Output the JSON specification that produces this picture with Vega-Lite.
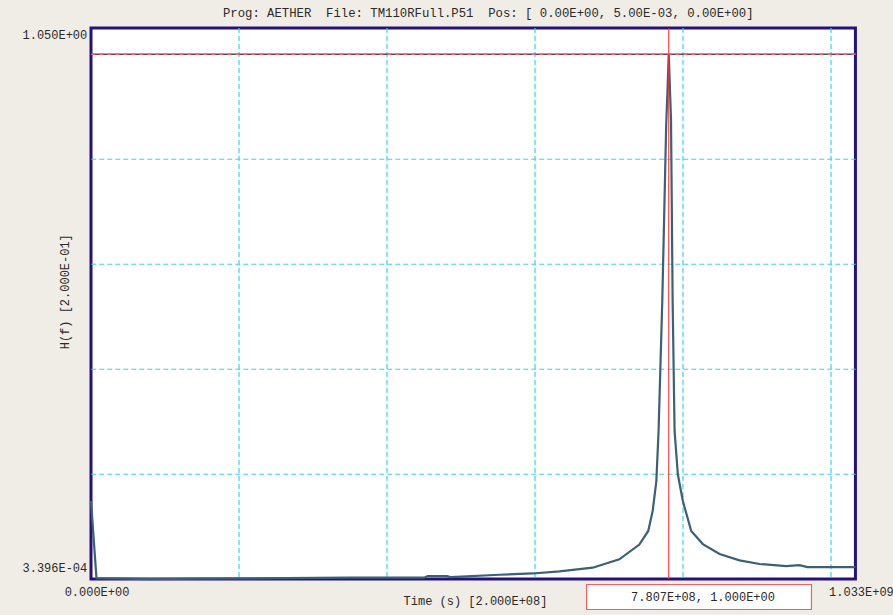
{
  "$schema": "https://vega.github.io/schema/vega-lite/v6.json",
  "width": 764.42,
  "height": 551.0717,
  "autosize": {"type": "none"},
  "padding": {"left": 91, "top": 28, "right": 37.58, "bottom": 35.93},
  "background": "#F0EDE6",
  "view": {"fill": "#FFFFFF", "stroke": "#24127A", "strokeWidth": 3},
  "title": {
    "text": "Prog: AETHER\u00a0\u00a0File: TM110RFull.P51\u00a0\u00a0Pos: [ 0.00E+00, 5.00E-03, 0.00E+00]",
    "frame": "group",
    "anchor": "middle",
    "dx": 15,
    "offset": 8,
    "font": "Liberation Mono",
    "fontSize": 12.3,
    "fontWeight": "normal",
    "color": "#2A2A2A"
  },
  "config": {
    "font": "Liberation Mono",
    "axis": {
      "labelFont": "Liberation Mono",
      "titleFont": "Liberation Mono",
      "labelFontSize": 12,
      "titleFontSize": 12,
      "titleFontWeight": "normal",
      "labelColor": "#2A2A2A",
      "titleColor": "#2A2A2A",
      "ticks": false,
      "domain": false,
      "grid": true,
      "gridColor": "#3FCFE8",
      "gridDash": [5, 3],
      "gridWidth": 1,
      "labelOverlap": false,
      "labelFlush": false,
      "labelBound": false
    }
  },
  "datasets": {
    "spectrum": [
      {"f": 0, "h": 0.149},
      {"f": 7.4e6, "h": 0.002},
      {"f": 8.0e7, "h": 0.0004},
      {"f": 1.47e8, "h": 0.001},
      {"f": 3.50e8, "h": 0.003},
      {"f": 4.50e8, "h": 0.003},
      {"f": 4.55e8, "h": 0.006},
      {"f": 4.81e8, "h": 0.006},
      {"f": 4.86e8, "h": 0.004},
      {"f": 5.52e8, "h": 0.0086},
      {"f": 5.97e8, "h": 0.011},
      {"f": 6.33e8, "h": 0.015},
      {"f": 6.78e8, "h": 0.022},
      {"f": 7.14e8, "h": 0.038},
      {"f": 7.41e8, "h": 0.066},
      {"f": 7.53e8, "h": 0.092},
      {"f": 7.59e8, "h": 0.130},
      {"f": 7.64e8, "h": 0.187},
      {"f": 7.67e8, "h": 0.283},
      {"f": 7.72e8, "h": 0.53},
      {"f": 7.773e8, "h": 0.866},
      {"f": 7.791e8, "h": 0.933},
      {"f": 7.807e8, "h": 1.0},
      {"f": 7.838e8, "h": 0.876},
      {"f": 7.86e8, "h": 0.53},
      {"f": 7.886e8, "h": 0.283},
      {"f": 7.93e8, "h": 0.20},
      {"f": 7.998e8, "h": 0.149},
      {"f": 8.111e8, "h": 0.092},
      {"f": 8.268e8, "h": 0.067},
      {"f": 8.494e8, "h": 0.048},
      {"f": 8.764e8, "h": 0.036},
      {"f": 9.034e8, "h": 0.029},
      {"f": 9.394e8, "h": 0.025},
      {"f": 9.574e8, "h": 0.027},
      {"f": 9.682e8, "h": 0.023},
      {"f": 1.033e9, "h": 0.023}
    ],
    "cursor": [
      {"f": 7.807e8, "h": 1.0}
    ],
    "readout": [
      {"f": 6.697e8, "f2": 9.736e8, "h": -0.0100, "h2": -0.0576, "fc": 8.27e8, "hc": -0.0338, "label": "7.807E+08, 1.000E+00"}
    ]
  },
  "layer": [
    {
      "data": {"name": "spectrum"},
      "mark": {"type": "line", "color": "#3B6078", "strokeWidth": 2.2, "interpolate": "linear"},
      "encoding": {
        "x": {
          "field": "f",
          "type": "quantitative",
          "scale": {"domain": [0, 1033000000], "nice": false, "zero": false},
          "axis": {
            "values": [0, 200000000, 400000000, 600000000, 800000000, 1000000000, 1033000000],
            "translate": 0,
            "gridWidth": 1.2,
            "labelExpr": "datum.value == 0 ? '0.000E+00' : (datum.value > 1020000000 ? '1.033E+09' : '')",
            "labelOffset": 6,
            "labelPadding": 8,
            "gridOpacity": {"condition": {"test": "datum.value == 0 || datum.value > 1020000000", "value": 0}, "value": 1},
            "title": "Time (s) [2.000E+08]",
            "titleX": 384.5,
            "titleY": 22,
            "titleAlign": "center",
            "titleBaseline": "middle"
          }
        },
        "y": {
          "field": "h",
          "type": "quantitative",
          "scale": {"domain": [0.0003396, 1.05], "nice": false, "zero": false},
          "axis": {
            "values": [0.0003396, 0.2, 0.4, 0.6, 0.8, 1.0, 1.05],
            "translate": 0.25,
            "labelExpr": "datum.value > 1.04 ? '1.050E+00' : (datum.value < 0.01 ? '3.396E-04' : '')",
            "labelPadding": 4,
            "labelOffset": {"condition": {"test": "datum.value > 1.04", "value": 7}, "value": -11},
            "gridOpacity": {"condition": {"test": "datum.value > 1.04 || datum.value < 0.01", "value": 0}, "value": 1},
            "title": "H(f) [2.000E-01]",
            "titleAngle": -90,
            "titleX": -26,
            "titleY": 263.5,
            "titleAlign": "center",
            "titleBaseline": "middle"
          }
        }
      }
    },
    {
      "data": {"name": "cursor"},
      "mark": {"type": "rule", "color": "#5A4656", "strokeWidth": 1.5},
      "encoding": {"y": {"field": "h", "type": "quantitative"}}
    },
    {
      "data": {"name": "cursor"},
      "mark": {"type": "rule", "color": "#F06868", "strokeWidth": 1.5, "strokeDash": [4, 4]},
      "encoding": {"y": {"field": "h", "type": "quantitative"}}
    },
    {
      "data": {"name": "cursor"},
      "mark": {"type": "rule", "color": "#FF2E2E", "strokeWidth": 1},
      "encoding": {"x": {"field": "f", "type": "quantitative"}}
    },
    {
      "data": {"name": "readout"},
      "mark": {"type": "rect", "fill": "#FFFFFF", "stroke": "#F06060", "strokeWidth": 1.2, "clip": false},
      "encoding": {
        "x": {"field": "f", "type": "quantitative"},
        "x2": {"field": "f2"},
        "y": {"field": "h", "type": "quantitative"},
        "y2": {"field": "h2"}
      }
    },
    {
      "data": {"name": "readout"},
      "mark": {"type": "text", "font": "Liberation Mono", "fontSize": 12, "color": "#2A2A2A", "align": "center", "baseline": "middle", "clip": false},
      "encoding": {
        "x": {"field": "fc", "type": "quantitative"},
        "y": {"field": "hc", "type": "quantitative"},
        "text": {"field": "label"}
      }
    }
  ]
}
